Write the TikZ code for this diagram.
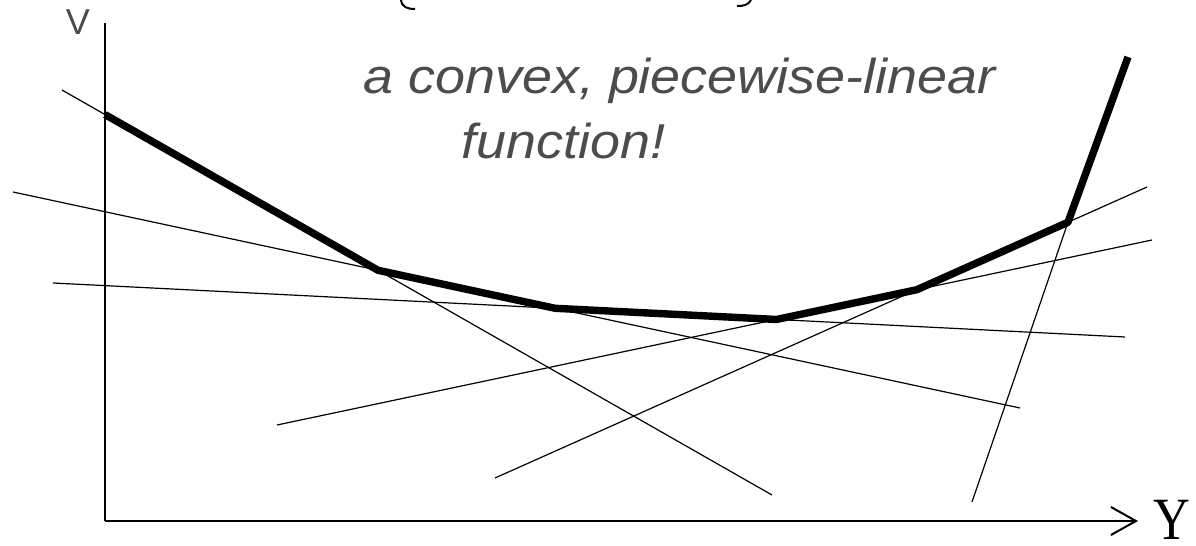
\documentclass[tikz,border=0pt]{standalone}
\usepackage{fontspec}
\setmainfont{Liberation Sans}
\newfontfamily\notefont{Liberation Sans}[FakeStretch=1.1]
\newfontfamily\serifY{Liberation Serif}[FakeStretch=0.85]
\usetikzlibrary{arrows.meta,calc}
\begin{document}
\begin{tikzpicture}[x=0.5pt,y=-0.5pt,
  thinline/.style={line width=0.6pt},
  envelope/.style={line width=3.7pt,line join=round},
  axisline/.style={line width=1pt},
  note/.style={font=\notefont\fontsize{24.5}{30}\selectfont\itshape,text=black!70,inner sep=0pt},
  axislabel/.style={inner sep=0pt},
]
\useasboundingbox (0,0) rectangle (1196,546);
% axes
\coordinate (O) at (105,521);
\coordinate (vtop) at (105,23);
\coordinate (xend) at (1138,521);
\draw[axisline] (O) -- (vtop);
\draw[axisline,-{Straight Barb[length=12.5pt,width=14pt]}] (O) -- (xend);
\node[axislabel,font=\fontsize{18}{18}\selectfont,text=black!70] (vlab) at (78,22) {V};
\node[axislabel,anchor=base west,font=\serifY\fontsize{30}{30}\selectfont] (ylab) at (1153,539) {Y};
% supporting lines
\coordinate (a1) at (62,90);   \coordinate (a2) at (772,495);
\coordinate (b1) at (13,192);  \coordinate (b2) at (1020,408);
\coordinate (c1) at (53,283);  \coordinate (c2) at (1125,337);
\coordinate (d1) at (277,425); \coordinate (d2) at (1152,240);
\coordinate (e1) at (495,478); \coordinate (e2) at (1147,187);
\coordinate (f2) at (972,502);
\coordinate (ftop) at (1128,57);
\draw[thinline] (a1) -- (a2);
\draw[thinline] (b1) -- (b2);
\draw[thinline] (c1) -- (c2);
\draw[thinline] (d1) -- (d2);
\draw[thinline] (e1) -- (e2);
% envelope vertices
\coordinate (p0) at (intersection of a1--a2 and O--vtop);
\coordinate (p1) at (intersection of a1--a2 and b1--b2);
\coordinate (p2) at (intersection of b1--b2 and c1--c2);
\coordinate (p3) at (intersection of c1--c2 and d1--d2);
\coordinate (p4) at (intersection of d1--d2 and e1--e2);
\coordinate (p5) at ($(e1)!0.8788!(e2)$);
\draw[thinline] (p5) -- (f2);
\draw[envelope] (p0) -- (p1) -- (p2) -- (p3) -- (p4) -- (p5) -- (ftop);
% note
\node[note,anchor=base west] (n1) at (363,93) {a convex, piecewise-linear};
\node[note,anchor=base west] (n2) at (461,158) {function!};
% cut-off title fragments
\draw[line width=1pt] (401,0) .. controls (402,7) and (407,9) .. (415,9);
\draw[line width=1pt] (751,0) .. controls (748,5) and (744,6) .. (737,6);
\end{tikzpicture}
\end{document}
